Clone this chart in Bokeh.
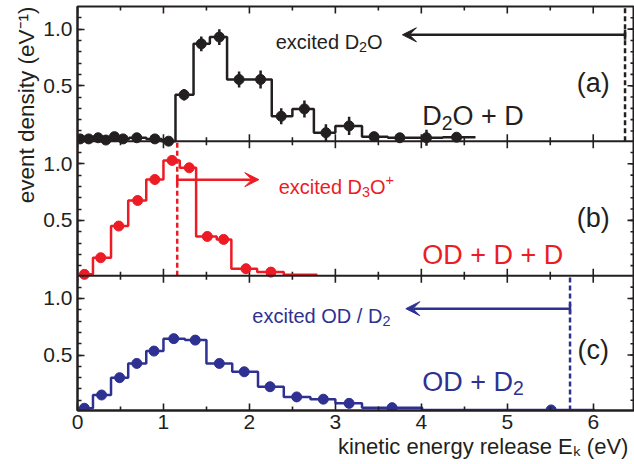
from bokeh.plotting import figure
from bokeh.models import (FixedTicker, CustomJSTickFormatter, Span, Arrow, VeeHead,
                          TeeHead, Range1d, Title)
from bokeh.core.properties import value
from bokeh.embed import file_html
from bokeh.resources import INLINE

# ---------------- data ----------------
x_ticks = [0, 1, 2, 3, 4, 5, 6]
x_minor_ticks = [0.5, 1.5, 2.5, 3.5, 4.5, 5.5]
y_ticks = [0.5, 1.0]
y_minor_ticks = [0.1, 0.2, 0.3, 0.4, 0.5, 0.6, 0.7, 0.8, 0.9, 1.0, 1.1]

# (a) D2O + D  (black, with error bars)
a_edges = [0.0, 0.08, 0.18, 0.28, 0.38, 0.48, 0.60, 0.80, 0.98, 1.14, 1.35, 1.54, 1.74,
           2.00, 2.26, 2.50, 2.75, 3.00, 3.31, 3.61, 3.90, 4.25, 4.63]
a_vals = [0.03, 0.03, 0.04, 0.02, 0.05, 0.03, 0.04, 0.03, 0.01, 0.42, 0.87, 0.93, 0.555,
          0.555, 0.23, 0.295, 0.085, 0.145, 0.05, 0.04, 0.04, 0.045]
a_x = [0.03, 0.13, 0.24, 0.33, 0.43, 0.53, 0.69, 0.90, 1.06, 1.24, 1.44, 1.65, 1.88,
       2.13, 2.37, 2.64, 2.89, 3.16, 3.45, 3.75, 4.06, 4.41]
a_err = [0.015, 0.015, 0.015, 0.015, 0.015, 0.015, 0.015, 0.015, 0.02, 0.05, 0.065, 0.07,
         0.07, 0.08, 0.07, 0.075, 0.075, 0.08, 0.02, 0.02, 0.07, 0.02]
a_threshold = 6.37
a_arrow_end = 3.78
a_arrow_y = 0.95

# (b) OD + D + D  (red)
b_edges = [0.0, 0.18, 0.39, 0.59, 0.80, 1.00, 1.19, 1.38, 1.62, 1.79, 2.09, 2.40, 2.79]
b_vals = [0.023, 0.17, 0.45, 0.676, 0.861, 1.03, 0.965, 0.358, 0.332, 0.073, 0.043, 0.02]
b_x = [0.08, 0.27, 0.48, 0.70, 0.90, 1.10, 1.30, 1.51, 1.70, 1.96, 2.25]
b_y = [0.023, 0.17, 0.45, 0.676, 0.861, 1.03, 0.965, 0.358, 0.332, 0.073, 0.043]
b_threshold = 1.16
b_arrow_end = 2.11
b_arrow_y = 0.86

# (c) OD + D2  (blue)
c_edges = [0.0, 0.18, 0.39, 0.59, 0.80, 1.00, 1.25, 1.50, 1.80, 2.10, 2.40, 2.71, 3.00,
           3.31, 4.01, 6.02]
c_vals = [0.03, 0.147, 0.30, 0.426, 0.535, 0.645, 0.632, 0.426, 0.352, 0.22, 0.13, 0.11,
          0.073, 0.035, 0.015]
c_x = [0.08, 0.28, 0.49, 0.69, 0.89, 1.12, 1.37, 1.65, 1.94, 2.24, 2.55, 2.86, 3.16,
       3.66, 5.51]
c_y = [0.03, 0.147, 0.30, 0.426, 0.535, 0.645, 0.632, 0.426, 0.352, 0.22, 0.13, 0.11,
       0.073, 0.035, 0.015]
c_threshold = 5.73
c_arrow_end = 3.82
c_arrow_y = 0.91

x_label = "kinetic energy release  E\u2096 (eV)"
y_label = "event density (eV\u207b\u00b9)"

# ---------------- layout constants ----------------
BLACK = "#231f20"
RED = "#ed1c24"
BLUE = "#2e3192"
FONT = "Liberation Sans"

W, H = 634, 464
LEFT, TOP_B, BOTTOM_B = 77, 6, 54
FRAME_W = W - LEFT
FRAME_H = H - TOP_B - BOTTOM_B
XMAX = 6.48
S = 1.19          # y span of one panel
LO = 0.01         # bottom of each panel in its own units
OFF_A, OFF_B, OFF_C = 2 * S, S, 0.0
px_x = FRAME_W / XMAX
px_y = FRAME_H / (3 * S)
YTOP = LO + 3 * S

p = figure(width=W, height=H, x_range=Range1d(0, XMAX), y_range=Range1d(LO, YTOP),
           output_backend="svg", toolbar_location=None,
           min_border_left=LEFT, min_border_right=0, min_border_top=TOP_B,
           min_border_bottom=BOTTOM_B)
p.xgrid.visible = False
p.ygrid.visible = False
p.outline_line_color = BLACK
p.outline_line_width = 2
p.background_fill_color = "white"
p.border_fill_color = "white"

offsets = [OFF_C, OFF_B, OFF_A]

yax = p.yaxis[0]
xax = p.xaxis[0]
yax.ticker = FixedTicker(ticks=[t + o for o in offsets for t in y_ticks],
                         minor_ticks=[t + o for o in offsets for t in y_minor_ticks])
yax.formatter = CustomJSTickFormatter(
    args=dict(S=S),
    code="const k = Math.floor((tick + 1e-6) / S); return (tick - k * S).toFixed(1);")
xax.ticker = FixedTicker(ticks=x_ticks, minor_ticks=x_minor_ticks)
for ax in (yax, xax):
    ax.major_tick_in = 7
    ax.major_tick_out = 0
    ax.minor_tick_in = 4
    ax.minor_tick_out = 0
    ax.axis_line_width = 2
    ax.axis_line_color = BLACK
    ax.major_tick_line_width = 1.6
    ax.minor_tick_line_width = 1.6
    ax.major_tick_line_color = BLACK
    ax.minor_tick_line_color = BLACK
    ax.major_label_text_font = FONT
    ax.major_label_text_font_size = "21px"
    ax.major_label_text_color = BLACK
yax.major_label_standoff = 5
xax.major_label_standoff = 4

# axis titles as side titles (right / top aligned like the reference)
p.add_layout(Title(text=x_label, align="right", text_font=FONT, text_font_size="22px",
                   text_font_style="normal", text_color=BLACK, standoff=0, offset=0,
                   text_line_height=0.95),
             "below")
p.add_layout(Title(text=y_label, align="right", text_font=FONT, text_font_size="22.5px",
                   text_font_style="normal", text_color=BLACK, standoff=4, offset=0),
             "left")

# panel separators
for b in (LO + S, LO + 2 * S):
    p.add_layout(Span(location=b, dimension="width", line_color=BLACK, line_width=2))

# inward ticks on the top, on the panel boundaries and on the right side
sx0, sy0, sx1, sy1 = [], [], [], []
def xtick_set(ybase, direction):
    for t in x_ticks:
        sx0.append(t); sx1.append(t); sy0.append(ybase); sy1.append(ybase + direction * 7 / px_y)
    for t in x_minor_ticks:
        sx0.append(t); sx1.append(t); sy0.append(ybase); sy1.append(ybase + direction * 4 / px_y)
xtick_set(YTOP, -1)
xtick_set(LO + 2 * S, 1)
xtick_set(LO + 2 * S, -1)
xtick_set(LO + S, 1)
xtick_set(LO + S, -1)
for o in offsets:
    for t in y_minor_ticks:
        sx0.append(XMAX); sx1.append(XMAX - 4 / px_x); sy0.append(t + o); sy1.append(t + o)
    for t in y_ticks:
        sx0.append(XMAX); sx1.append(XMAX - 7 / px_x); sy0.append(t + o); sy1.append(t + o)
p.segment(x0=sx0, y0=sy0, x1=sx1, y1=sy1, line_color=BLACK, line_width=1.6)

def panel(edges, vals, px, py, off, color, thr, arr_end, arr_y, err=None):
    p.step(x=edges, y=[v + off for v in vals + [vals[-1]]], mode="after",
           line_color=color, line_width=2.5)
    if err is not None:
        p.segment(x0=px, x1=px, y0=[y - e + off for y, e in zip(py, err)],
                  y1=[y + e + off for y, e in zip(py, err)], line_color=color, line_width=2.5)
    p.scatter(x=px, y=[y + off for y in py], size=10, fill_color=color, line_color=color)
    p.segment(x0=[thr], x1=[thr], y0=[LO + off], y1=[LO + S + off], line_color=color,
              line_width=2.5, line_dash="5 3")
    p.add_layout(Arrow(x_start=thr, y_start=arr_y + off, x_end=arr_end, y_end=arr_y + off,
                       line_color=color, line_width=2.5,
                       start=TeeHead(size=10, line_color=color, line_width=2.5),
                       end=VeeHead(size=14, fill_color=color, line_color=color)))

panel(a_edges, a_vals, a_x, a_vals, OFF_A, BLACK, a_threshold, a_arrow_end, a_arrow_y, err=a_err)
panel(b_edges, b_vals, b_x, b_y, OFF_B, RED, b_threshold, b_arrow_end, b_arrow_y)
panel(c_edges, c_vals, c_x, c_y, OFF_C, BLUE, c_threshold, c_arrow_end, c_arrow_y)

# Arial / Liberation Sans advance widths (per 1000 em)
WID = {" ": 278, "(": 333, ")": 333, "+": 584, "/": 278, "2": 556, "3": 556, "D": 722,
       "O": 778, "a": 556, "b": 556, "c": 500, "d": 556, "e": 556, "i": 222, "t": 278,
       "x": 500}

def rich(x, y, parts, color, size, align="left"):
    """parts: list of (text, kind) with kind 'n', 'sub' or 'sup'; y is the cap centre."""
    scale = {"n": 1.0, "sub": 0.72, "sup": 0.72}
    widths = [sum(WID.get(ch, 556) for ch in t) * size * scale[k] / 1000 for t, k in parts]
    total = sum(widths)
    start = {"left": 0.0, "right": -total, "center": -total / 2}[align]
    base = 0.36 * size
    shift = {"n": 0.0, "sub": 0.25 * size, "sup": -0.33 * size}
    off = start
    for (t, k), w in zip(parts, widths):
        p.text(x=[x], y=[y], text=[t], x_offset=off, y_offset=base + shift[k],
               text_color=color, text_font=value(FONT),
               text_font_size=value(f"{size * scale[k]:.1f}px"),
               text_align="left", text_baseline="alphabetic")
        off += w

rich(3.55, 0.95 + OFF_A, [("excited D", "n"), ("2", "sub"), ("O", "n")], BLACK, 20, "right")
rich(2.34, 0.86 + OFF_B, [("excited D", "n"), ("3", "sub"), ("O", "n"), ("+", "sup")], RED, 20)
rich(3.64, 0.91 + OFF_C, [("excited OD / D", "n"), ("2", "sub")], BLUE, 20, "right")
rich(6.0, 0.61 + OFF_A, [("(a)", "n")], BLACK, 27, "center")
rich(6.0, 0.61 + OFF_B, [("(b)", "n")], BLACK, 27, "center")
rich(6.0, 0.63 + OFF_C, [("(c)", "n")], BLACK, 27, "center")
rich(4.01, 0.32 + OFF_A, [("D", "n"), ("2", "sub"), ("O + D", "n")], BLACK, 27)
rich(4.01, 0.28 + OFF_B, [("OD + D + D", "n")], RED, 27)
rich(4.01, 0.35 + OFF_C, [("OD + D", "n"), ("2", "sub")], BLUE, 27)

open("out.html", "w").write(file_html(p, INLINE))
